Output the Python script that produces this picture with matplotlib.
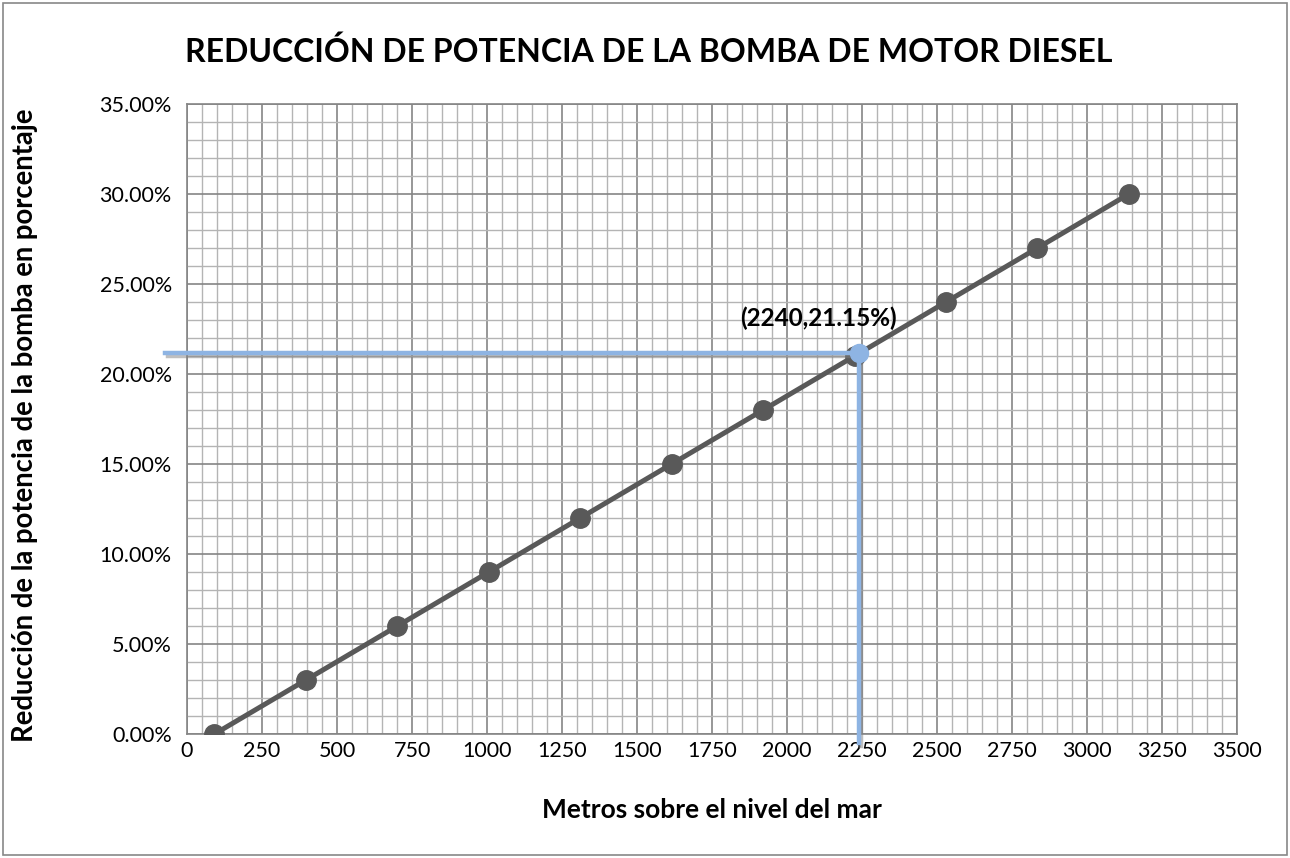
import matplotlib
matplotlib.use('Agg')
import matplotlib.pyplot as plt
import matplotlib.patheffects as pe
from matplotlib.ticker import MultipleLocator, FuncFormatter
import numpy as np

# data
altitud = [91.44, 396.24, 701.04, 1005.84, 1310.64, 1615.44, 1920.24, 2225.04, 2529.84, 2834.64, 3139.44]
reduccion = [0.00, 0.03, 0.06, 0.09, 0.12, 0.15, 0.18, 0.21, 0.24, 0.27, 0.30]
punto_x = 2240
punto_y = 0.2115
punto_label = '(2240,21.15%)'

plt.rcParams['font.family'] = ['Lato', 'DejaVu Sans']

fig = plt.figure(figsize=(12.9, 8.58), dpi=100)
ax = fig.add_axes([0.145, 0.1445, 0.814, 0.7343])

# grid
ax.xaxis.set_major_locator(MultipleLocator(250))
ax.xaxis.set_minor_locator(MultipleLocator(50))
ax.yaxis.set_major_locator(MultipleLocator(0.05))
ax.yaxis.set_minor_locator(MultipleLocator(0.01))
ax.grid(which='minor', color='#b4b4b4', linewidth=1.0)
ax.grid(which='major', color='#858585', linewidth=1.2)
ax.set_axisbelow(True)
ax.tick_params(which='both', length=0, labelsize=15.5, colors='black')
ax.tick_params(axis='y', pad=11)
ax.tick_params(axis='x', pad=5)
ax.yaxis.set_major_formatter(FuncFormatter(lambda v, p: f'{v*100:.2f}%'))
ax.set_xlim(0, 3500)
ax.set_ylim(0, 0.35)
for s in ax.spines.values():
    s.set_color('#858585')
    s.set_linewidth(1.2)

# serie
ax.plot(altitud, reduccion, color='#595959', linewidth=3.6, marker='o',
        markersize=14, markerfacecolor='#595959', markeredgecolor='#595959', zorder=3)

# lineas de lectura
shadow = [pe.SimpleLineShadow(offset=(1.5, -2), shadow_color='#808080', alpha=0.5), pe.Normal()]
ax.plot([-72, punto_x], [punto_y, punto_y], color='#8eb4e3', linewidth=3.2,
        clip_on=False, zorder=4, path_effects=shadow)
ax.plot([punto_x, punto_x], [punto_y, -0.005], color='#8eb4e3', linewidth=3.2,
        clip_on=False, zorder=4, path_effects=shadow)
ax.plot([punto_x], [punto_y], marker='o', markersize=13, color='#8eb4e3', zorder=5)
ax.annotate(punto_label, (punto_x, punto_y), xytext=(-29, 25), textcoords='offset points',
            ha='center', va='center', fontsize=17.5, fontweight='bold')

fig.text(0.503, 1 - 52 / 858, 'REDUCCIÓN DE POTENCIA DE LA BOMBA DE MOTOR DIESEL',
         ha='center', va='center', fontsize=23, fontweight='bold')
fig.text(712 / 1290, 1 - 810 / 858, 'Metros sobre el nivel del mar',
         ha='center', va='center', fontsize=19, fontweight='bold')
fig.text(25 / 1290, 1 - 425 / 858, 'Reducción de la potencia de la bomba en porcentaje',
         ha='center', va='center', rotation=90, fontsize=19.8, fontweight='bold')

# borde del grafico
fig.patches.append(plt.Rectangle((0.002, 0.003), 0.996, 0.994, transform=fig.transFigure,
                                 fill=False, edgecolor='#888888', linewidth=1.2))

fig.savefig('out.png', dpi=100)
